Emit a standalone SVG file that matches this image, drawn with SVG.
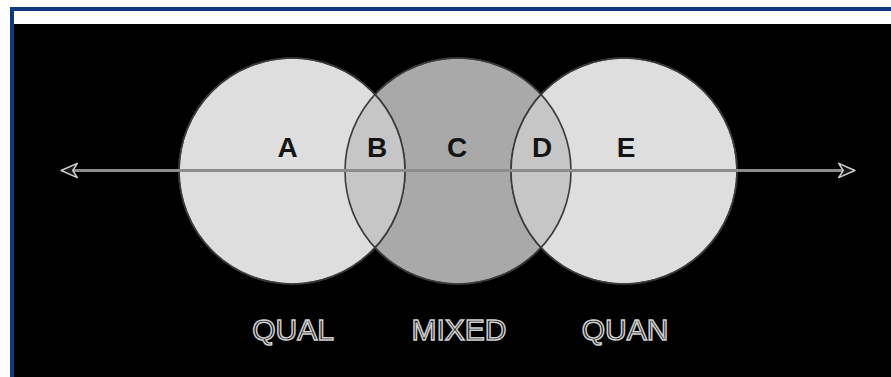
<svg xmlns="http://www.w3.org/2000/svg" width="891" height="377" viewBox="0 0 891 377">
  <style>
    .ring { stroke: #3a3a3a; stroke-width: 1.6; }
    .letter { font-family: "Liberation Sans", Arial, sans-serif; font-weight: bold; font-size: 28px; fill: #141414; text-anchor: middle; }
    .caption { font-family: "Liberation Sans", Arial, sans-serif; font-size: 30px; fill: #111; stroke: #cfcfcf; stroke-width: 1.5; text-anchor: middle; }
    .axis { stroke: #8c8c8c; stroke-width: 3; fill: none; }
    .tip { fill: #1a1a1a; stroke: #d0d0d0; stroke-width: 1.6; stroke-linejoin: round; }
  </style>
  <defs>
    <clipPath id="clipLeft"><circle cx="292" cy="171" r="113"/></clipPath>
    <clipPath id="clipRight"><circle cx="624" cy="171" r="113"/></clipPath>
    <marker id="headEnd" viewBox="0 0 24 20" refX="20" refY="10" markerWidth="22" markerHeight="18" markerUnits="userSpaceOnUse" orient="auto">
      <path class="tip" d="M21,10 L3,2 L8,10 L3,18 Z"/>
    </marker>
    <marker id="headStart" viewBox="0 0 24 20" refX="4" refY="10" markerWidth="22" markerHeight="18" markerUnits="userSpaceOnUse" orient="auto">
      <path class="tip" d="M3,10 L21,2 L16,10 L21,18 Z"/>
    </marker>
  </defs>

  <!-- frame -->
  <rect x="0" y="0" width="891" height="377" fill="#ffffff"/>
  <rect x="12" y="9" width="881" height="370" fill="#ffffff" stroke="#0d3a80" stroke-width="4"/>
  <rect x="14" y="24" width="877" height="353" fill="#000000"/>

  <!-- circles -->
  <g id="node-mixed">
    <circle class="ring" cx="458" cy="171" r="113" fill="#a9a9a9"/>
  </g>
  <g id="node-qual">
    <circle class="ring" cx="292" cy="171" r="113" fill="#dedede"/>
  </g>
  <g id="node-quan">
    <circle class="ring" cx="624" cy="171" r="113" fill="#dedede"/>
  </g>
  <g id="node-overlaps">
    <circle cx="458" cy="171" r="113" fill="#c6c6c6" clip-path="url(#clipLeft)"/>
    <circle cx="458" cy="171" r="113" fill="#c6c6c6" clip-path="url(#clipRight)"/>
    <circle class="ring" cx="292" cy="171" r="113" fill="none"/>
    <circle class="ring" cx="624" cy="171" r="113" fill="none"/>
    <circle class="ring" cx="458" cy="171" r="113" fill="none"/>
  </g>

  <!-- axis -->
  <g id="connectors">
    <line class="axis" x1="62" y1="170.5" x2="854" y2="170.5" marker-start="url(#headStart)" marker-end="url(#headEnd)"/>
  </g>

  <!-- region letters -->
  <g id="labels">
    <text class="letter" x="287.5" y="157">A</text>
    <text class="letter" x="377" y="157">B</text>
    <text class="letter" x="457" y="157">C</text>
    <text class="letter" x="542" y="157">D</text>
    <text class="letter" x="626" y="157">E</text>
  </g>

  <!-- captions -->
  <g id="captions">
    <text class="caption" x="293" y="340">QUAL</text>
    <text class="caption" x="459" y="340">MIXED</text>
    <text class="caption" x="625" y="340">QUAN</text>
  </g>
</svg>
